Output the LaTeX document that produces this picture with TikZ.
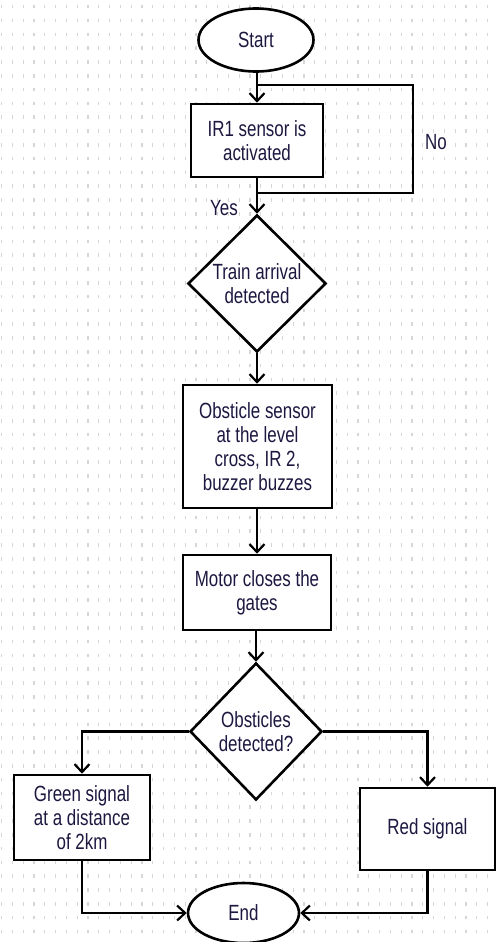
\documentclass[tikz,border=0pt]{standalone}
\usepackage{fontspec}
\setmainfont[FakeStretch=0.77]{Liberation Sans}
\usetikzlibrary{shapes.geometric,arrows.meta}
\definecolor{ink}{HTML}{1C1840}
\definecolor{griddot}{HTML}{D6D6D6}
\begin{document}
\begin{tikzpicture}[x=1pt,y=-1pt,
  every node/.style={font=\fontsize{22}{24}\selectfont, text=ink, align=center},
  flowline/.style={line width=2.6pt, draw=black},
  flowarrow/.style={flowline, -{Straight Barb[length=8pt,width=15pt,line width=2.2pt]}},
  terminal/.style={ellipse, draw=black, line width=2.6pt, fill=white, inner sep=0pt},
  process/.style={rectangle, draw=black, line width=2.6pt, fill=white, inner sep=2pt},
  decision/.style={diamond, draw=black, line width=2.6pt, fill=white, inner sep=0pt, shape aspect=1},
  plain/.style={inner sep=0pt}]
  % canvas
  \useasboundingbox (0,0) rectangle (498,942);
  \fill[white] (0,0) rectangle (498,942);
  % dotted background grid
  \foreach \i in {0,...,45}{
    \foreach \j in {0,...,67}{
      \fill[griddot] ({1+10.8*\i},{5+13.8*\j}) rectangle ++(1.2,3.5);
    }
  }

  % nodes
  \node[terminal, minimum width=115, minimum height=63] (start) at (256,40) {Start};
  \node[process, minimum width=132, minimum height=73] (ir1) at (257,140.5) {IR1 sensor is\\activated};
  \node[decision, minimum width=138, minimum height=137] (arrive) at (257,283.5) {Train arrival\\detected};
  \node[process, minimum width=149, minimum height=123] (obs) at (257.5,446.5) {Obsticle sensor\\at the level\\cross, IR 2,\\buzzer buzzes};
  \node[process, minimum width=148, minimum height=75] (motor) at (257,592.5) {Motor closes the\\gates};
  \node[decision, minimum width=132, minimum height=137] (check) at (256,731.5) {Obsticles\\detected?};
  \node[process, minimum width=136, minimum height=85] (green) at (82,817.5) {Green signal\\at a distance\\of 2km};
  \node[process, minimum width=135, minimum height=82] (red) at (427.5,829) {Red signal};
  \node[terminal, minimum width=111, minimum height=60] (end) at (243.5,913) {End};

  % labels
  \node[plain] (no) at (436,142) {No};
  \node[plain] (yes) at (224,208) {Yes};

  % loop back when the sensor is not activated
  \coordinate (split) at (257,193);
  \coordinate (loopr) at (413,193);
  \coordinate (loopt) at (413,85);
  \coordinate (join) at (257,85);
  \draw[flowline] (ir1.south) -- (split) -- (loopr) -- (loopt) -- (join);

  % main flow
  \draw[flowarrow] (start.south -| ir1.north) -- (ir1.north);
  \draw[flowarrow] (ir1.south) -- (arrive.north);
  \draw[flowarrow] (arrive.south) -- (obs.north -| arrive.south);
  \draw[flowarrow] (obs.south -| motor.north) -- (motor.north);
  \draw[flowarrow] (motor.south -| check.north) -- (check.north);
  \draw[flowarrow] (check.west) -| (green.north);
  \draw[flowarrow] (check.east) -| (red.north);
  \draw[flowarrow] (green.south) |- (end.west);
  \draw[flowarrow] (red.south) |- (end.east);
\end{tikzpicture}
\end{document}
